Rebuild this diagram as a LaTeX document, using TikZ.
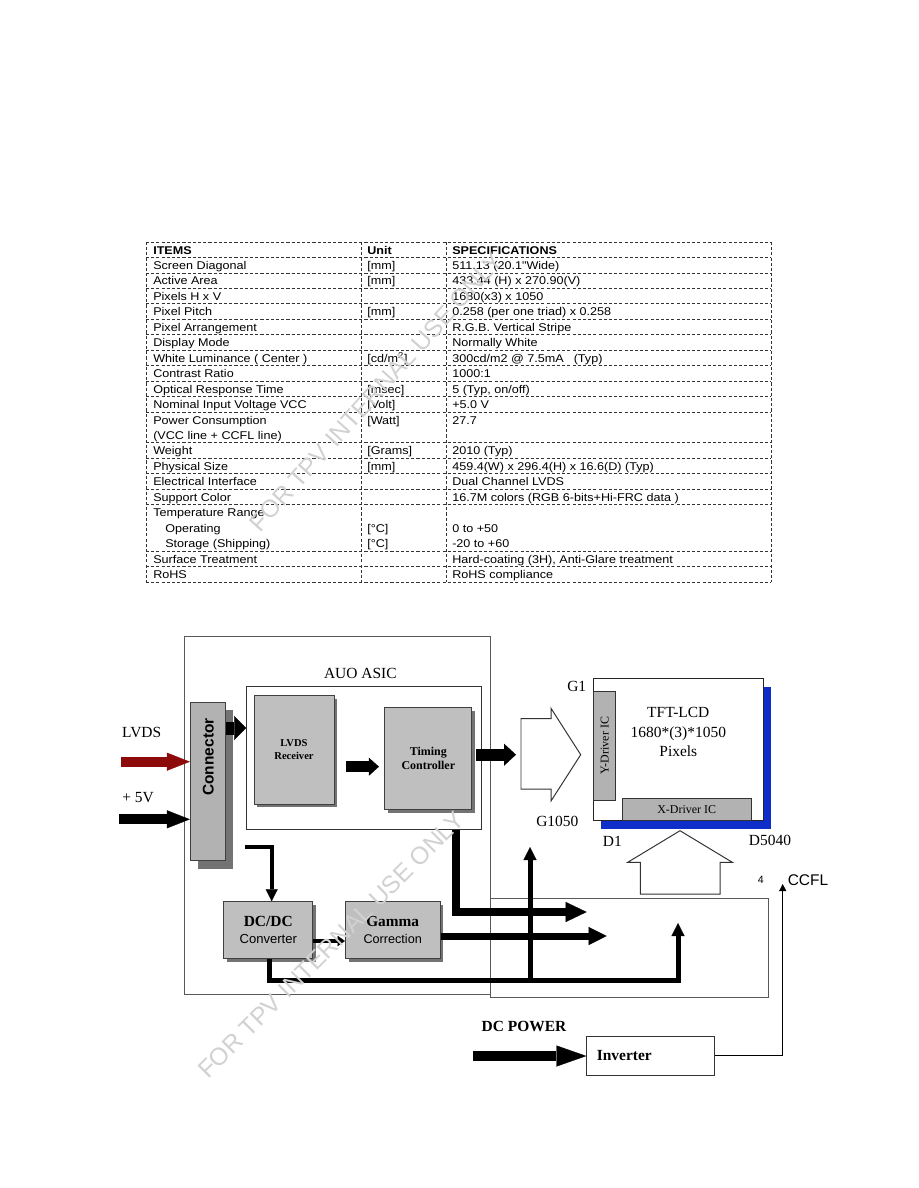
\documentclass[tikz,border=0pt]{standalone}
\usepackage{fontspec}
\setmainfont{Liberation Serif}
\setsansfont{Liberation Sans}
\newfontfamily\tabfont{Liberation Sans}[FakeStretch=1.12]
\usetikzlibrary{arrows.meta, positioning, shadows}

\definecolor{lvdsred}{RGB}{140,10,10}
\definecolor{lcdblue}{RGB}{15,45,200}

\begin{document}
\begin{tikzpicture}[
    x=0.25mm, y=-0.25mm,
    cell/.style={anchor=base west, inner sep=0, font=\tabfont\fontsize{8}{9}\selectfont},
    tabline/.style={draw=black!80, line width=0.55pt, dash pattern=on 2.2pt off 1.5pt},
    frame/.style={rectangle, draw=black!65, line width=0.7pt},
    chip/.style={rectangle, draw=black!75, line width=0.6pt, fill=black!25, align=center,
        drop shadow={shadow xshift=#1, shadow yshift=-#1, fill=black!55, opacity=1}},
    chip/.default=0.8mm,
    ic/.style={rectangle, draw=black!80, line width=0.6pt, fill=black!30, inner sep=0, font=\fontsize{8.5}{10}\selectfont},
    lbl/.style={inner sep=1pt, font=\fontsize{11}{13}\selectfont},
    hollow/.style={draw=black!80, line width=0.7pt, fill=white},
    blockarrow/.style n args={3}{line width=#1, -{Triangle[length=#2, width=#3, line width=0.2pt]}},
    bus/.style={line width=1.25mm, line join=miter, -{Triangle[length=3.25mm, width=3.25mm, line width=0.2pt]}},
    wm/.style={text=black!18, font=\sffamily\fontsize{17.5}{20}\selectfont}
]
\useasboundingbox (0,0) rectangle (918,1188);

% Specification table
\foreach \k in {0,1,2,3,4,5,6,7,8,9,10,11,13,14,15,16,17,20,21,22}
    \draw[tabline] (146,{242+15.45*\k}) -- (771,{242+15.45*\k});
\foreach \x in {146,361,446,771}
    \draw[tabline] (\x,242) -- (\x,582);

\foreach \n/\itm/\unt/\spc in {
    1/{\textbf{ITEMS}}/{\textbf{Unit}}/{\textbf{SPECIFICATIONS}},
    2/{Screen Diagonal}/{[mm]}/{511.13 (20.1"Wide)},
    3/{Active Area}/{[mm]}/{433.44 (H) x 270.90(V)},
    4/{Pixels H x V}/{}/{1680(x3) x 1050},
    5/{Pixel Pitch}/{[mm]}/{0.258 (per one triad) x 0.258},
    6/{Pixel Arrangement}/{}/{R.G.B. Vertical Stripe},
    7/{Display Mode}/{}/{Normally White},
    8/{White Luminance ( Center )}/{[cd/m\textsuperscript{2}]}/{300cd/m2 @ 7.5mA\hspace{2.5mm}(Typ)},
    9/{Contrast Ratio}/{}/{1000:1},
    10/{Optical Response Time}/{[msec]}/{5 (Typ, on/off)},
    11/{Nominal Input Voltage VCC}/{[Volt]}/{+5.0 V},
    12/{Power Consumption}/{[Watt]}/{27.7},
    13/{(VCC line + CCFL line)}/{}/{},
    14/{Weight}/{[Grams]}/{2010 (Typ)},
    15/{Physical Size}/{[mm]}/{459.4(W) x 296.4(H) x 16.6(D) (Typ)},
    16/{Electrical Interface}/{}/{Dual Channel LVDS},
    17/{Support Color}/{}/{16.7M colors (RGB 6-bits+Hi-FRC data )},
    18/{Temperature Range}/{}/{},
    19/{\hspace*{3mm}Operating}/{[°C]}/{0 to +50},
    20/{\hspace*{3mm}Storage (Shipping)}/{[°C]}/{-20 to +60},
    21/{Surface Treatment}/{}/{Hard-coating (3H), Anti-Glare treatment},
    22/{RoHS}/{}/{RoHS compliance}}{
    \node[cell] (itm\n) at (153,{242+15.45*\n-3.4}) {\itm};
    \node[cell] (unt\n) at (367,{242+15.45*\n-3.4}) {\unt};
    \node[cell] (spc\n) at (452,{242+15.45*\n-3.4}) {\spc};
}

% Frames
\node[frame, minimum width=76.5mm, minimum height=89.5mm] (module) at (337,815) {};
\node[frame, minimum width=69.5mm, minimum height=24.75mm] (board) at (629,947.5) {};
\node[frame, draw=black!80, minimum width=58.8mm, minimum height=35.75mm,
      label={[lbl, label distance=1.4mm, xshift=-1mm]above:AUO ASIC}] (asic) at (364.3,757.5) {};

% Blocks
\node[chip=2mm, fill=black!30, minimum width=8.75mm, minimum height=39.6mm] (conn) at (207.8,781.5) {};
\node[rotate=90, font=\sffamily\bfseries\fontsize{11}{13}\selectfont] (conntxt) at (208.3,757) {Connector};
\node[chip, minimum width=20mm, minimum height=27.2mm, font=\bfseries\fontsize{7.5}{9.5}\selectfont] (rcv) at (294,749.7) {LVDS\\Receiver};
\node[chip, minimum width=21.7mm, minimum height=25.4mm, font=\bfseries\fontsize{8.5}{10}\selectfont] (tcon) at (428.3,758.5) {Timing\\Controller};
\node[chip, minimum width=22.2mm, minimum height=14.3mm] (dcdc) at (268.3,930.3)
    {\bfseries\fontsize{11}{13.3}\selectfont DC/DC\\\sffamily\fontsize{9.3}{13.3}\selectfont Converter};
\node[chip, minimum width=23.7mm, minimum height=14.3mm] (gamma) at (392.7,930.3)
    {\bfseries\fontsize{10.9}{13.3}\selectfont Gamma\\\sffamily\fontsize{9}{13.3}\selectfont Correction};

% LCD panel
\node[rectangle, draw=black!85, line width=0.6pt, fill=white, minimum width=42.5mm, minimum height=35.5mm,
      drop shadow={shadow xshift=1.9mm, shadow yshift=-2mm, fill=lcdblue, opacity=1}] (panel) at (678.7,749.7) {};
\node[lbl, align=center, font=\fontsize{11}{13.9}\selectfont] (tft) at (678.3,732.3) {TFT-LCD\\1680*(3)*1050\\Pixels};
\node[ic, minimum width=5.5mm, minimum height=27.3mm] (ydrv) at (604.7,745.7) {\rotatebox{90}{Y-Driver IC}};
\node[ic, minimum width=32.2mm, minimum height=5.5mm] (xdrv) at (686.7,809.7) {X-Driver IC};
\node[lbl] (g1) at (576.7,686.7) {G1};
\node[lbl] (g1050) at (557.3,821.7) {G1050};
\node[lbl] (d1) at (612.3,841.7) {D1};
\node[lbl] (d5040) at (770,840.7) {D5040};

\draw[hollow] (521,718.7) -- (551,718.7) -- (551,708.3) -- (580.7,754.7) -- (551,801) -- (551,789) -- (521,789) -- cycle;
\draw[hollow] (680,830.7) -- (732.3,862.3) -- (720,862.3) -- (720,894) -- (640.3,894) -- (640.3,862.3) -- (627.7,862.3) -- cycle;

% Inputs
\node[lbl] (lvdslbl) at (141.7,732.7) {LVDS};
\node[lbl] (pwrlbl) at (138,798) {+ 5V};
\coordinate (lvdsin) at (121,761.7);
\coordinate (pwrin) at (119,819.3);
\draw[blockarrow={2.4mm}{5.75mm}{4.5mm}, color=lvdsred] (lvdsin) -- (conn.west |- lvdsin);
\draw[blockarrow={2.5mm}{5.75mm}{4.5mm}] (pwrin) -- (conn.west |- pwrin);

% Signal path
\coordinate (linkin) at (0,728);
\coordinate (rxlevel) at (0,766.7);
\coordinate (gin) at (516,754.7);
\draw[blockarrow={3.25mm}{3mm}{6mm}] (conn.east |- linkin) -- (asic.west |- linkin);
\draw[blockarrow={2.75mm}{2.5mm}{4.5mm}, shorten <=3mm, shorten >=1.4mm] (rcv.east |- rxlevel) -- (tcon.west |- rxlevel);
\draw[blockarrow={3mm}{3mm}{5.5mm}, shorten <=1mm] (tcon.east |- gin) -- (gin);

% Power path
\coordinate (dcbend) at (271.7,846.7);
\coordinate (dclevel) at (0,941);
\coordinate (gout) at (606.7,936);
\coordinate (tbend) at (456,912);
\coordinate (tout) at (586.7,912);
\draw[line width=1.1mm, line join=miter, -{Triangle[length=3mm, width=3mm, line width=0.2pt]}, shorten <=4.9mm]
    (conn.east |- dcbend) -- (dcbend) -- (dcbend |- dcdc.north);
\draw[line width=1mm, -{Triangle[length=1.8mm, width=2.6mm, line width=0.2pt]}] (dcdc.east |- dclevel) -- (gamma.west |- dclevel);
\draw[blockarrow={1.75mm}{4.5mm}{4.5mm}] (gamma.east |- gout) -- (gout);
\draw[blockarrow={2.2mm}{5.25mm}{5mm}, line join=miter] (asic.south -| tbend) -- (tbend) -- (tout);

\coordinate (busL) at (269.5,980);
\coordinate (busR) at (678,980);
\coordinate (bdrv) at (678,923);
\coordinate (gdrv) at (530,847);
\draw[bus] (dcdc.south -| busL) -- (busL) -- (busR) -- (bdrv);
\draw[bus] (busL -| gdrv) -- (gdrv);

% Backlight
\node[rectangle, draw=black!80, line width=0.6pt, text width=27mm, align=left, inner xsep=2.5mm,
      minimum height=9.75mm, font=\bfseries\fontsize{11}{13}\selectfont] (inv) at (650.8,1055.5) {Inverter};
\node[lbl, font=\bfseries\fontsize{11}{13}\selectfont] (dcpwr) at (524,1026.7) {DC POWER};
\coordinate (dcin) at (472.7,1056);
\coordinate (ccfl) at (782.7,884);
\draw[blockarrow={2.5mm}{7.5mm}{5.25mm}] (dcin) -- (inv.west |- dcin);
\draw[line width=0.6pt, -{Triangle[length=1.8mm, width=1.8mm]}] (inv.east) -- (inv.east -| ccfl) -- (ccfl);
\node[font=\sffamily\fontsize{7.5}{8}\selectfont] (lamps) at (760.7,880) {4};
\node[font=\sffamily\fontsize{11}{13}\selectfont] (ccfllbl) at (808,880) {CCFL};

% Watermarks
\node[wm, rotate=48] (wmtab) at (376,392) {FOR TPV INTERNAL USE ONLY};
\node[wm, rotate=45] (wmblk) at (331,945) {FOR TPV INTERNAL USE ONLY};

\end{tikzpicture}
\end{document}
